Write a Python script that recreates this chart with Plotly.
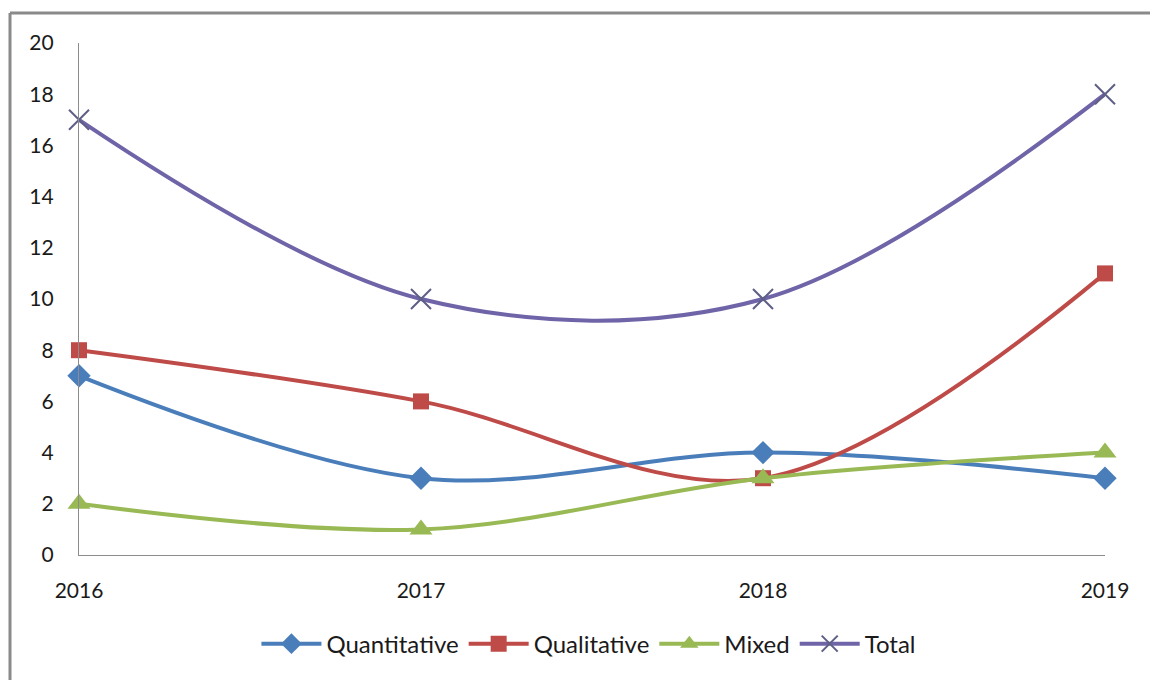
import plotly.graph_objects as go

years = [2016, 2017, 2018, 2019]
quantitative = [7, 3, 4, 3]
qualitative = [8, 6, 3, 11]
mixed = [2, 1, 3, 4]
total = [17, 10, 10, 18]
y_ticks = [0, 2, 4, 6, 8, 10, 12, 14, 16, 18, 20]

FONT = "Lato"
SM = 1.0

fig = go.Figure()
fig.add_trace(go.Scatter(
    x=years, y=quantitative, name="Quantitative", mode="lines+markers",
    line=dict(color="#4A7EBB", width=4, shape="spline", smoothing=SM),
    marker=dict(symbol="diamond", size=18, color="#4A7EBB"), cliponaxis=False))
fig.add_trace(go.Scatter(
    x=years, y=qualitative, name="Qualitative", mode="lines+markers",
    line=dict(color="#BE4B48", width=4, shape="spline", smoothing=SM),
    marker=dict(symbol="square", size=16, color="#BE4B48"), cliponaxis=False))
fig.add_trace(go.Scatter(
    x=years, y=mixed, name="Mixed", mode="lines+markers",
    line=dict(color="#98B954", width=4, shape="spline", smoothing=SM),
    marker=dict(symbol="triangle-up", size=20, color="#98B954"), cliponaxis=False))
fig.add_trace(go.Scatter(
    x=years, y=total, name="Total", mode="lines+markers",
    line=dict(color="#7064A8", width=4, shape="spline", smoothing=SM),
    marker=dict(symbol="x-thin", size=20, color="#5E5E86",
                line=dict(width=2, color="#5E5E86")), cliponaxis=False))

W, H = 1150, 680
l, r, t, b = 79, 45, 43, 125
pw, ph = W - l - r, H - t - b

def px_to_paper_x(px):
    return (px - l) / pw

def px_to_paper_y(py):
    return (H - b - py) / ph

shapes = [
    dict(type="line", xref="paper", yref="paper",
         x0=px_to_paper_x(10), x1=px_to_paper_x(1160),
         y0=px_to_paper_y(13), y1=px_to_paper_y(13),
         line=dict(color="#8a8a8a", width=3)),
    dict(type="line", xref="paper", yref="paper",
         x0=px_to_paper_x(10), x1=px_to_paper_x(10),
         y0=px_to_paper_y(13), y1=px_to_paper_y(700),
         line=dict(color="#8a8a8a", width=3)),
]

fig.update_layout(
    width=W, height=H,
    margin=dict(l=l, r=r, t=t, b=b),
    paper_bgcolor="white", plot_bgcolor="white",
    font=dict(family=FONT, size=21, color="#1a1a1a"),
    showlegend=True,
    legend=dict(orientation="h", x=0.497, xanchor="center", y=-0.13, yanchor="top",
                font=dict(family=FONT, size=24), itemwidth=60, tracegroupgap=0),
    shapes=shapes,
    xaxis=dict(range=[2016, 2019], tickvals=years, ticktext=[str(v) for v in years],
               showgrid=False, zeroline=False, showline=True, linecolor="#8c8c8c",
               linewidth=1.2, ticks="", ticklabelstandoff=17,
               tickfont=dict(family=FONT, size=21)),
    yaxis=dict(range=[0, 20], tickvals=y_ticks, showgrid=False, zeroline=False,
               showline=True, linecolor="#8c8c8c", linewidth=1.2, ticks="",
               ticklabelstandoff=20, tickfont=dict(family=FONT, size=21)),
)

fig.write_html("out.html", config={"displayModeBar": False},
               post_script="document.body.style.margin='0';")
